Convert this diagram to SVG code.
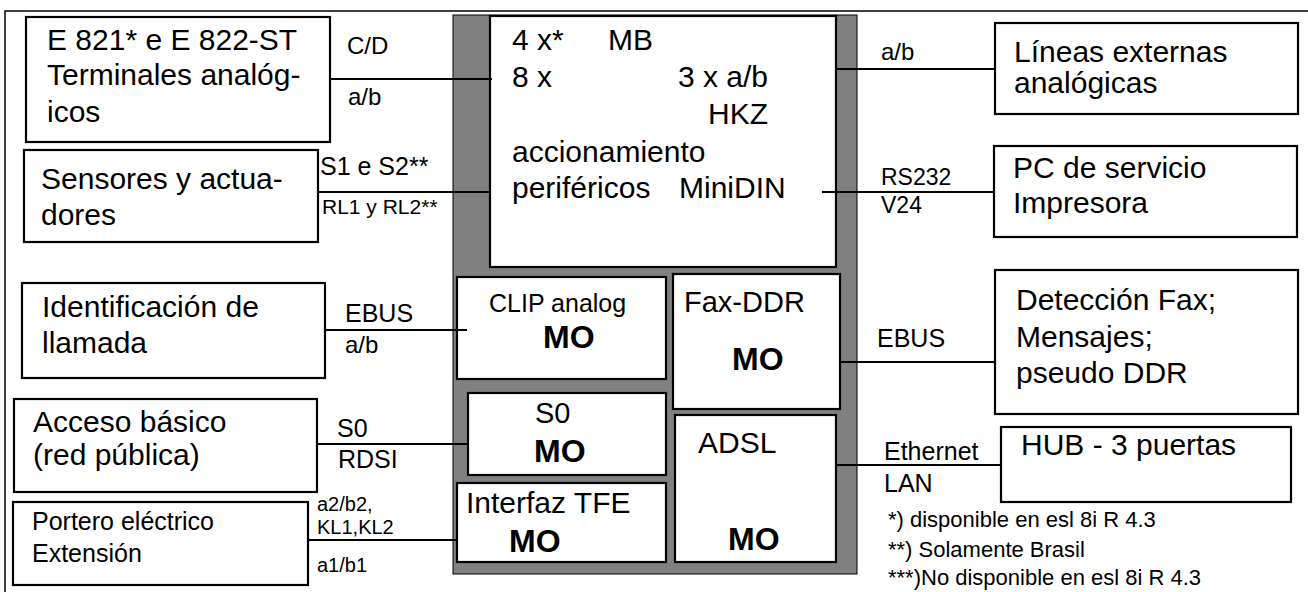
<svg xmlns="http://www.w3.org/2000/svg" width="1308" height="592" viewBox="0 0 1308 592">
<style>
text{font-family:"Liberation Sans",Arial,sans-serif;fill:#000}
.bx{font-size:30px}
.md{font-size:29px}
.lb{font-size:24px}
.sm{font-size:20px}
.mo{font-size:32px;font-weight:bold}
.fn{font-size:22px}
.box{fill:#fff;stroke:#000;stroke-width:2.2}
.con line{stroke:#000;stroke-width:2}
</style>
<rect x="0" y="0" width="1308" height="592" fill="#fff"/>
<g id="frame"><polyline points="1308,11 5,11 5,592" fill="none" stroke="#000" stroke-width="1.5"/></g>
<g id="core">
<rect x="453" y="15" width="404" height="559" fill="#808080" stroke="#000" stroke-width="1"/>
</g>
<g id="mainboard">
<rect class="box" x="490" y="16" width="346" height="251"/>
<text class="bx" x="512" y="50">4 x*</text>
<text class="bx" x="608" y="50">MB</text>
<text class="bx" x="512" y="87">8 x</text>
<text class="bx" x="678" y="87">3 x a/b</text>
<text class="bx" x="708" y="124">HKZ</text>
<text class="bx" x="512" y="162">accionamiento</text>
<text class="bx" x="512" y="198">periféricos</text>
<text class="bx" x="679" y="198">MiniDIN</text>
</g>
<g id="clip">
<rect class="box" x="457" y="277" width="209" height="102"/>
<text x="489" y="312" style="font-size:25px">CLIP analog</text>
<text class="mo" x="543" y="348">MO</text>
</g>
<g id="faxddr">
<rect class="box" x="673" y="274" width="167" height="135"/>
<text class="md" x="684" y="312">Fax-DDR</text>
<text class="mo" x="732" y="370">MO</text>
</g>
<g id="s0mod">
<rect class="box" x="468" y="393" width="198" height="82"/>
<text class="md" x="535" y="423">S0</text>
<text class="mo" x="534" y="462">MO</text>
</g>
<g id="tfe">
<rect class="box" x="457" y="483" width="209" height="79"/>
<text class="bx" x="466" y="513">Interfaz TFE</text>
<text class="mo" x="509" y="552">MO</text>
</g>
<g id="adsl">
<rect class="box" x="675" y="415" width="161" height="147"/>
<text class="bx" x="698" y="453">ADSL</text>
<text class="mo" x="728" y="550">MO</text>
</g>
<g id="terminales">
<rect class="box" x="26" y="17" width="304" height="125"/>
<text class="bx" x="47" y="50">E 821* e E 822-ST</text>
<text class="bx" x="47" y="85">Terminales analóg-</text>
<text class="bx" x="47" y="122">icos</text>
</g>
<g id="sensores">
<rect class="box" x="24" y="150" width="294" height="92"/>
<text class="bx" x="41" y="189">Sensores y actua-</text>
<text class="bx" x="41" y="225">dores</text>
</g>
<g id="identificacion">
<rect class="box" x="22" y="283" width="303" height="95"/>
<text class="bx" x="42" y="317">Identificación de</text>
<text class="bx" x="42" y="353">llamada</text>
</g>
<g id="acceso">
<rect class="box" x="14" y="399" width="303" height="93"/>
<text class="bx" x="33" y="432">Acceso básico</text>
<text class="bx" x="33" y="465">(red pública)</text>
</g>
<g id="portero">
<rect class="box" x="13" y="502" width="295" height="83"/>
<text x="32" y="530" style="font-size:25px">Portero eléctrico</text>
<text x="32" y="562" style="font-size:25px">Extensión</text>
</g>
<g id="lineas">
<rect class="box" x="995" y="23" width="303" height="91"/>
<text class="bx" x="1014" y="62">Líneas externas</text>
<text class="bx" x="1014" y="93">analógicas</text>
</g>
<g id="pc">
<rect class="box" x="994" y="146" width="303" height="91"/>
<text class="bx" x="1013" y="178">PC de servicio</text>
<text class="bx" x="1013" y="213">Impresora</text>
</g>
<g id="deteccion">
<rect class="box" x="995" y="270" width="303" height="144"/>
<text class="bx" x="1016" y="310">Detección Fax;</text>
<text class="bx" x="1016" y="347">Mensajes;</text>
<text class="bx" x="1016" y="383">pseudo DDR</text>
</g>
<g id="hub">
<rect class="box" x="1001" y="427" width="290" height="75"/>
<text class="bx" x="1021" y="455">HUB - 3 puertas</text>
</g>
<g id="connectors" class="con">
<line x1="330" y1="79" x2="492" y2="79"/>
<line x1="318" y1="192" x2="490" y2="192"/>
<line x1="325" y1="330" x2="467" y2="330"/>
<line x1="317" y1="444" x2="468" y2="444"/>
<line x1="308" y1="540" x2="457" y2="540"/>
<line x1="836" y1="69" x2="995" y2="69"/>
<line x1="822" y1="192" x2="994" y2="192"/>
<line x1="840" y1="362" x2="995" y2="362"/>
<line x1="836" y1="465" x2="1001" y2="465"/>
</g>
<g id="labels">
<text class="lb" x="347" y="54">C/D</text>
<text class="lb" x="348" y="105">a/b</text>
<text x="320" y="175" style="font-size:25px">S1 e S2**</text>
<text x="322" y="214" style="font-size:21px">RL1 y RL2**</text>
<text x="345" y="322" style="font-size:25px">EBUS</text>
<text class="lb" x="345" y="353">a/b</text>
<text x="337" y="437" style="font-size:25px">S0</text>
<text x="338" y="468" style="font-size:25px">RDSI</text>
<text class="sm" x="317" y="511">a2/b2,</text>
<text class="sm" x="317" y="534">KL1,KL2</text>
<text x="317" y="572" style="font-size:20px">a1/b1</text>
<text class="lb" x="881" y="60">a/b</text>
<text x="881" y="185" style="font-size:23px">RS232</text>
<text x="881" y="213" style="font-size:23px">V24</text>
<text x="877" y="347" style="font-size:25px">EBUS</text>
<text x="884" y="460" style="font-size:25px">Ethernet</text>
<text x="884" y="492" style="font-size:25px">LAN</text>
</g>
<g id="footnotes">
<text class="fn" x="888" y="527">*) disponible en esl 8i R 4.3</text>
<text class="fn" x="888" y="557">**) Solamente Brasil</text>
<text class="fn" x="888" y="585">***)No disponible en esl 8i R 4.3</text>
</g>
</svg>
